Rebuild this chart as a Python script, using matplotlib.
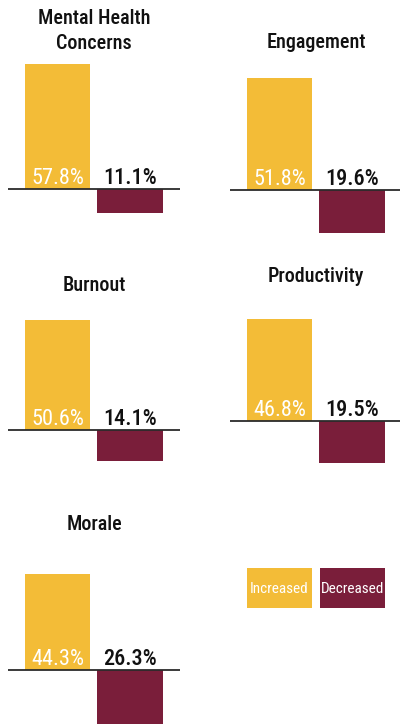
import matplotlib.pyplot as plt
from matplotlib import font_manager
from matplotlib.patches import Rectangle

names = {f.name for f in font_manager.fontManager.ttflist}
narrow = 'Roboto Condensed' if 'Roboto Condensed' in names else 'DejaVu Sans'
plt.rcParams['font.family'] = [narrow, 'DejaVu Sans']

categories = ['Mental Health\nConcerns', 'Engagement', 'Burnout', 'Productivity', 'Morale']
increased = [57.8, 51.8, 50.6, 46.8, 44.3]
decreased = [11.1, 19.6, 14.1, 19.5, 26.3]
legend_labels = ['Increased', 'Decreased']

yellow = '#F3BC37'
maroon = '#7A1E3A'

W, H = 400, 724
fig = plt.figure(figsize=(W / 100, H / 100), dpi=100)

# panel placement in pixels: left end of the baseline, baseline row, title row
lefts = [8, 230, 8, 230, 8]
baselines = [189, 190, 430, 421, 670]
title_rows = [31, 43, 285, 277, 525]
panel_w = 172
px_per_pt = 2.17
above, below = 140, 70

for i, cat in enumerate(categories):
    left, base = lefts[i], baselines[i]
    ax = fig.add_axes([left / W, 1 - (base + below) / H,
                       panel_w / W, (above + below) / H])
    ax.set_xlim(-0.683, 1.69)
    ax.set_ylim(-below / px_per_pt, above / px_per_pt)
    ax.bar(0, increased[i], width=0.9, color=yellow)
    ax.bar(1, -decreased[i], width=0.9, color=maroon)
    ax.axhline(0, color='#2b2b2b', lw=1.3)
    ax.axis('off')
    ax.annotate(f'{increased[i]}%', (0, 0), xytext=(0, 3.5),
                textcoords='offset points', ha='center', va='baseline',
                color='white', fontsize=16)
    ax.annotate(f'{decreased[i]}%', (1, 0), xytext=(0, 3.5),
                textcoords='offset points', ha='center', va='baseline',
                color='#111111', fontsize=16, fontweight=500)
    fig.text((left + 86) / W, 1 - title_rows[i] / H, cat, ha='center',
             va='center', fontsize=14.5, color='#111111', fontweight=500,
             linespacing=1.4)

# legend boxes
box_x = [247, 320]
box_colors = [yellow, maroon]
for x, c, lab in zip(box_x, box_colors, legend_labels):
    fig.add_artist(Rectangle((x / W, 1 - 608 / H), 65 / W, 40 / H,
                             transform=fig.transFigure, color=c, lw=0))
    fig.text((x + 32.5) / W, 1 - 589 / H, lab, ha='center', va='center',
             color='white', fontsize=11)

fig.savefig('out.png', dpi=100)
